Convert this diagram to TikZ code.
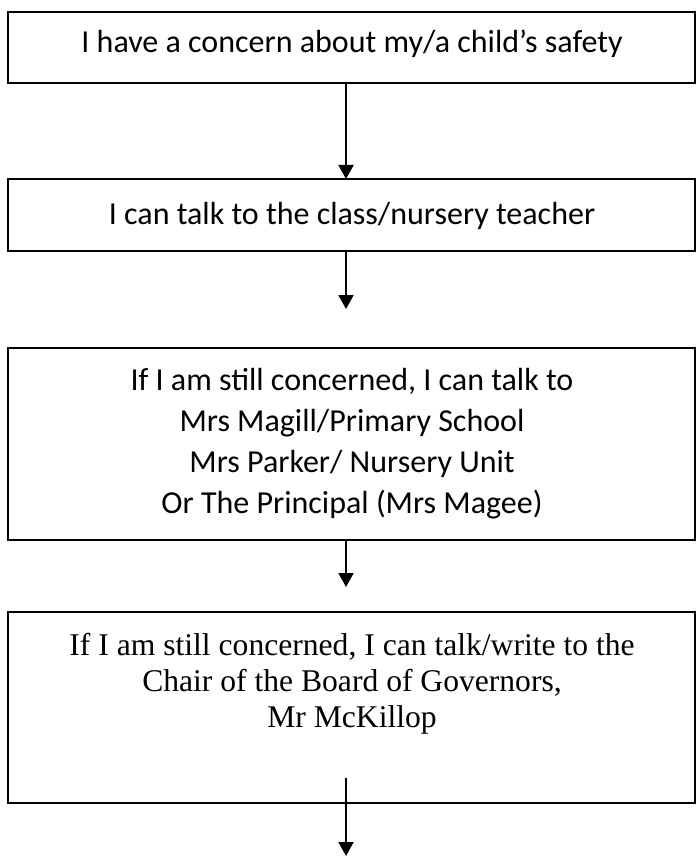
\documentclass[tikz,border=0pt]{standalone}
\usepackage{fontspec}
\setmainfont{Liberation Serif}
\newfontfamily\sassoonfont{Carlito}
\usetikzlibrary{arrows.meta}
\begin{document}
\begin{tikzpicture}[x=1pt,y=-1pt,
  box/.style={draw=black,line width=1.6pt,minimum width=687pt,inner sep=0pt,outer sep=0pt,anchor=north west},
  flow/.style={line width=2pt,-{Triangle[width=15pt,length=14pt]}},
  ssn/.style={font=\sassoonfont\fontsize{32}{41}\selectfont,anchor=base,inner sep=0pt},
  tms/.style={font=\fontsize{31.6}{36}\selectfont,anchor=base,inner sep=0pt}]
\fill[white] (0,0) rectangle (696,858);
\useasboundingbox (0,0) rectangle (696,858);
% boxes
\node[box,minimum height=71pt] (b1) at (8,12) {};
\node[box,minimum height=72pt] (b2) at (8,179) {};
\node[box,minimum height=192pt] (b3) at (8,348) {};
\node[box,minimum height=191pt] (b4) at (8,612) {};
% texts
\node[ssn] (t1) at (352,53) {I have a concern about my/a child’s safety};
\node[ssn] (t2) at (352,225) {I can talk to the class/nursery teacher};
\node[ssn] (t3a) at (352,390) {If I am still concerned, I can talk to};
\node[ssn] (t3b) at (352,431) {Mrs Magill/Primary School};
\node[ssn] (t3c) at (352,472) {Mrs Parker/ Nursery Unit};
\node[ssn] (t3d) at (352,513) {Or The Principal (Mrs Magee)};
\node[tms] (t4a) at (352,655) {If I am still concerned, I can talk/write to the};
\node[tms] (t4b) at (352,691) {Chair of the Board of Governors,};
\node[tms] (t4c) at (352,727) {Mr McKillop};
% arrows
\coordinate (ax) at (346,0);
\coordinate (e2) at (346,309);
\coordinate (e3) at (346,587);
\coordinate (s4) at (346,778);
\coordinate (e4) at (346,856);
\draw[flow] (b1.south -| ax) -- (b2.north -| ax);
\draw[flow] (b2.south -| e2) -- (e2);
\draw[flow] (b3.south -| e3) -- (e3);
\draw[flow] (s4) -- (e4);
\end{tikzpicture}
\end{document}
